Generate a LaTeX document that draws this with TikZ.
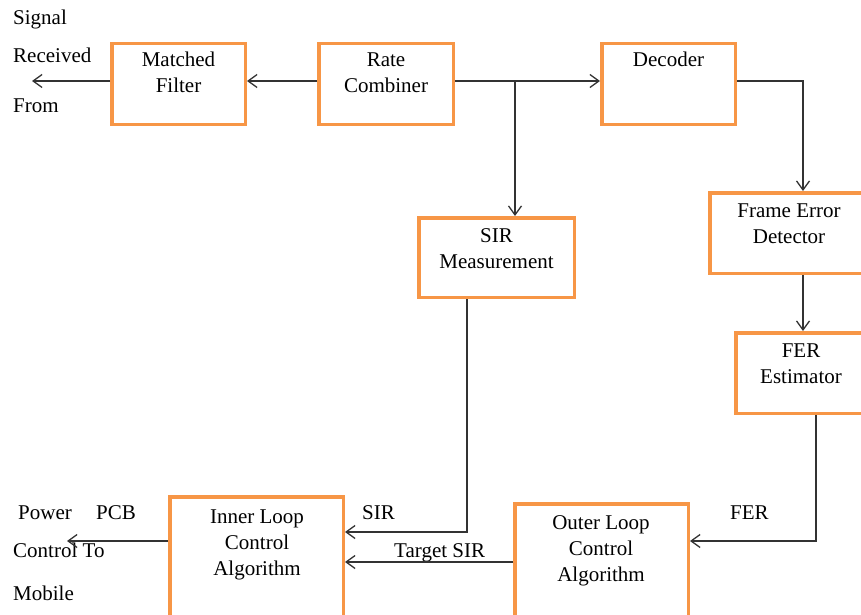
\documentclass[tikz,border=0pt]{standalone}
\usepackage{fontspec}
\setmainfont{Liberation Serif}
\usetikzlibrary{arrows.meta}
\definecolor{boxorange}{HTML}{F79646}
\definecolor{linegray}{HTML}{333333}
\tikzset{
  blk/.style={draw=boxorange, line width=3.5pt, rectangle, inner sep=0pt},
  txt/.style={font=\fontsize{21}{26}\selectfont, inner sep=0pt, align=center, anchor=base},
  lbl/.style={font=\fontsize{21}{26}\selectfont, inner sep=0pt, anchor=base west},
  arr/.style={draw=linegray, line width=1.3pt, -{Straight Barb[length=9pt,width=13pt,line width=1.3pt]}},
  ln/.style={draw=linegray, line width=1.3pt}
}
\begin{document}
\begin{tikzpicture}[x=1pt,y=-1pt]
\useasboundingbox (0,0) rectangle (861,615);
\clip (0,0) rectangle (861,615);
% boxes (outer edges in px)
\node[blk, minimum width=133.5pt, minimum height=80.5pt] (mf) at (178.5,84) {};
\node[blk, minimum width=134.5pt, minimum height=80.5pt] (rc) at (386,84) {};
\node[blk, minimum width=133.5pt, minimum height=80.5pt] (dec) at (668.5,84) {};
\node[blk, minimum width=155.5pt, minimum height=79.5pt] (sir) at (496.5,257.5) {};
\node[blk, minimum width=159.5pt, minimum height=80.5pt] (fed) at (789.5,233) {};
\node[blk, minimum width=130.5pt, minimum height=80.5pt] (fer) at (801,373) {};
\node[blk, minimum width=173.5pt, minimum height=140pt] (ilc) at (256.5,567) {};
\node[blk, minimum width=173.5pt, minimum height=130pt] (olc) at (601.5,569) {};
% box texts (base anchor = baseline of last line)
\node[txt] (tmf) at (178.5,93) {Matched\\Filter};
\node[txt] (trc) at (386,93) {Rate\\Combiner};
\node[txt] (tdec) at (668.5,67) {Decoder};
\node[txt] (tsir) at (496.5,268) {SIR\\Measurement};
\node[txt] (tfed) at (789,243) {Frame Error\\Detector};
\node[txt] (tfer) at (801,383) {FER\\Estimator};
\node[txt] (tilc) at (257,575) {Inner Loop\\Control\\Algorithm};
\node[txt] (tolc) at (601,581) {Outer Loop\\Control\\Algorithm};
% free labels
\node[lbl] (l1) at (13,25) {Signal};
\node[lbl] (l2) at (13,63) {Received};
\node[lbl] (l3) at (13,113) {From};
\node[lbl] (l4) at (18,519) {Power};
\node[lbl] (l5) at (96,519) {PCB};
\node[lbl] (l6) at (13,557) {Control To};
\node[lbl] (l7) at (13,600) {Mobile};
\node[lbl] (l8) at (362,519) {SIR};
\node[lbl] (l9) at (394,557) {Target SIR};
\node[lbl] (l10) at (730,519) {FER};
% helper coordinates
\coordinate (r81) at (0,81);
\coordinate (r532) at (0,532);
\coordinate (r541) at (0,541);
\coordinate (r562) at (0,562);
\coordinate (jn) at (515,81);
\coordinate (c1) at (803,0);
\coordinate (c2) at (816,0);
\coordinate (c3) at (467,0);
\coordinate (sigout) at (32,81);
\coordinate (pout) at (67,541);
% connectors
\draw[arr] (rc.west |- r81) -- (mf.east |- r81);
\draw[arr] (mf.west |- r81) -- (sigout);
\draw[arr] (rc.east |- r81) -- (dec.west |- r81);
\draw[arr] (jn) -- (jn |- sir.north);
\draw[arr] (dec.east |- r81) -| (c1 |- fed.north);
\draw[arr] (c1 |- fed.south) -- (c1 |- fer.north);
\draw[arr] (c2 |- fer.south) |- (olc.east |- r541);
\draw[arr] (c3 |- sir.south) |- (ilc.east |- r532);
\draw[arr] (olc.west |- r562) -- (ilc.east |- r562);
\draw[arr] (ilc.west |- r541) -- (pout);
\end{tikzpicture}
\end{document}
